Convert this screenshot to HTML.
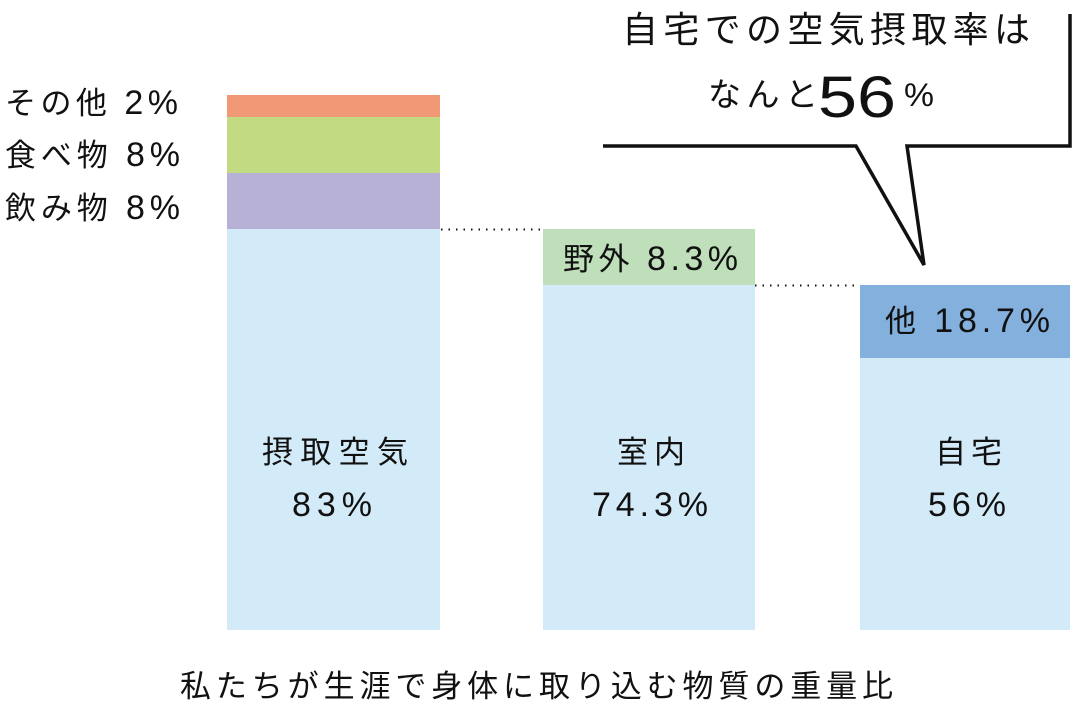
<!DOCTYPE html>
<html><head><meta charset="utf-8"><style>
body{margin:0;background:#fff;}
svg text{font-family:"Liberation Sans","Noto Sans CJK JP",sans-serif;fill:#111;}
</style></head><body>
<svg width="1078" height="706" viewBox="0 0 1078 706" xmlns="http://www.w3.org/2000/svg">
<rect x="227" y="95" width="213" height="22" fill="#f19877"/>
<rect x="227" y="117" width="213" height="56" fill="#c2da82"/>
<rect x="227" y="173" width="213" height="56" fill="#b8b1d6"/>
<rect x="227" y="229" width="213" height="401" fill="#d3eaf8"/>
<rect x="543" y="229" width="212" height="56" fill="#bfdfba"/>
<rect x="543" y="285" width="212" height="345" fill="#d3eaf8"/>
<rect x="860" y="285" width="210" height="73" fill="#84b0de"/>
<rect x="860" y="358" width="210" height="272" fill="#d3eaf8"/>
<line x1="441" y1="229.5" x2="543" y2="229.5" stroke="#111" stroke-width="2" stroke-dasharray="1.5 6"/>
<line x1="755" y1="285.5" x2="860" y2="285.5" stroke="#111" stroke-width="2" stroke-dasharray="1.5 6"/>
<polyline points="603,146 856,146 924,265 907,146 1070,146 1070,14" fill="none" stroke="#111" stroke-width="3.5" stroke-linejoin="miter"/>
<g font-size="31">
<text x="5" y="114" textLength="173" lengthAdjust="spacing">その他 <tspan font-size="34">2%</tspan></text>
<text x="5" y="166" textLength="175" lengthAdjust="spacing">食べ物 <tspan font-size="34">8%</tspan></text>
<text x="5" y="219" textLength="175" lengthAdjust="spacing">飲み物 <tspan font-size="34">8%</tspan></text>
<text x="563" y="270" textLength="175" lengthAdjust="spacing">野外 <tspan font-size="34">8.3%</tspan></text>
<text x="885" y="332" textLength="165" lengthAdjust="spacing">他 <tspan font-size="34">18.7%</tspan></text>
<text x="262" y="463" textLength="146" lengthAdjust="spacing">摂取空気</text>
<text x="292" y="516" font-size="34" textLength="80" lengthAdjust="spacing">83%</text>
<text x="617" y="463" textLength="68" lengthAdjust="spacing">室内</text>
<text x="592" y="516" font-size="34" textLength="116" lengthAdjust="spacing">74.3%</text>
<text x="935" y="463" textLength="67" lengthAdjust="spacing">自宅</text>
<text x="928" y="516" font-size="34" textLength="78" lengthAdjust="spacing">56%</text>
<text x="180" y="697" textLength="713" lengthAdjust="spacing">私たちが生涯で身体に取り込む物質の重量比</text>
</g>
<text x="622" y="42" font-size="36" textLength="408" lengthAdjust="spacing">自宅での空気摂取率は</text>
<text x="708" y="106" font-size="33" textLength="110" lengthAdjust="spacing">なんと</text>
<text x="818" y="117" font-size="58" textLength="78" lengthAdjust="spacingAndGlyphs">56</text>
<text x="904" y="106" font-size="32" textLength="30" lengthAdjust="spacingAndGlyphs">%</text>
</svg>
</body></html>
